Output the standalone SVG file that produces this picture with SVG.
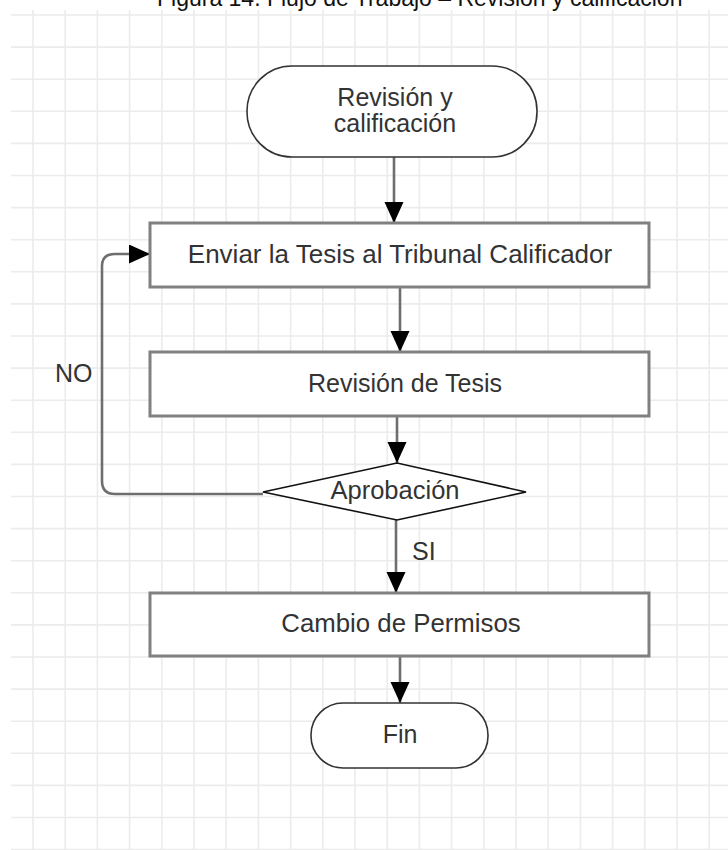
<svg xmlns="http://www.w3.org/2000/svg" width="728" height="850" viewBox="0 0 728 850">
<defs>
<style>
.grid{stroke:#ececec;stroke-width:1.6;fill:none}
.box{fill:#fff;stroke:#808080;stroke-width:3}
.term{fill:#fff;stroke:#333;stroke-width:1.6}
.dia{fill:#fff;stroke:#111;stroke-width:1.6}
.edge{fill:none;stroke:#6e6e6e;stroke-width:2.6}
.lbl{font-family:"Liberation Sans",Arial,sans-serif;font-size:25px;fill:#333;text-anchor:middle}
.elbl{font-family:"Liberation Sans",Arial,sans-serif;font-size:25px;fill:#333}
.title{font-family:"Liberation Sans",Arial,sans-serif;font-size:23px;fill:#111}
</style>
<marker id="arr" markerUnits="userSpaceOnUse" markerWidth="22" markerHeight="20" refX="21" refY="9.5" orient="auto">
<path d="M0,0 L21,9.5 L0,19 Z" fill="#000"/>
</marker>
</defs>
<rect width="728" height="850" fill="#fff"/>
<g id="grid">
<path class="grid" d="M33,10V850M65.2,10V850M97.4,10V850M129.6,10V850M161.8,10V850M194,10V850M226.2,10V850M258.4,10V850M290.6,10V850M322.8,10V850M355,10V850M387.2,10V850M419.4,10V850M451.6,10V850M483.8,10V850M516,10V850M548.2,10V850M580.4,10V850M612.6,10V850M644.8,10V850M677,10V850M709.2,10V850"/>
<path class="grid" d="M11,15H728M11,47.1H728M11,79.2H728M11,111.3H728M11,143.4H728M11,175.5H728M11,207.6H728M11,239.7H728M11,271.8H728M11,303.9H728M11,336H728M11,368.1H728M11,400.2H728M11,432.3H728M11,464.4H728M11,496.5H728M11,528.6H728M11,560.7H728M11,592.8H728M11,624.9H728M11,657H728M11,689.1H728M11,721.2H728M11,753.3H728M11,785.4H728M11,817.5H728M11,849.6H728"/>
</g>
<text id="title" class="title" x="157" y="6">Figura 14. Flujo de Trabajo – Revisión y calificación</text>
<g id="connectors">
<path class="edge" d="M394,157V223" marker-end="url(#arr)"/>
<path class="edge" d="M400,287V352" marker-end="url(#arr)"/>
<path class="edge" d="M397,416V463" marker-end="url(#arr)"/>
<path class="edge" d="M396,520V593" marker-end="url(#arr)"/>
<path class="edge" d="M400,656V703" marker-end="url(#arr)"/>
<path class="edge" d="M263,494H115Q102,494 102,481V266Q102,254 115,254H150" marker-end="url(#arr)"/>
<text class="elbl" x="55" y="382">NO</text>
<text class="elbl" x="412" y="560">SI</text>
</g>
<g id="start">
<rect class="term" x="247" y="66" width="290" height="91" rx="45" ry="45"/>
<text class="lbl" x="395" y="106">Revisión y</text>
<text class="lbl" x="395" y="132">calificación</text>
</g>
<g id="enviar">
<rect class="box" x="150" y="223" width="499" height="64"/>
<text class="lbl" x="400" y="263" style="font-size:26px">Enviar la Tesis al Tribunal Calificador</text>
</g>
<g id="revision">
<rect class="box" x="150" y="352" width="499" height="64"/>
<text class="lbl" x="405" y="392">Revisión de Tesis</text>
</g>
<g id="aprobacion">
<polygon class="dia" points="263,492 397,463 526,492 397,520"/>
<text class="lbl" x="395" y="499" style="font-size:25.5px">Aprobación</text>
</g>
<g id="cambio">
<rect class="box" x="150" y="593" width="499" height="63"/>
<text class="lbl" x="401" y="632" style="font-size:25.8px">Cambio de Permisos</text>
</g>
<g id="fin">
<rect class="term" x="311" y="703" width="177" height="65" rx="32" ry="32"/>
<text class="lbl" x="400" y="743">Fin</text>
</g>
</svg>
